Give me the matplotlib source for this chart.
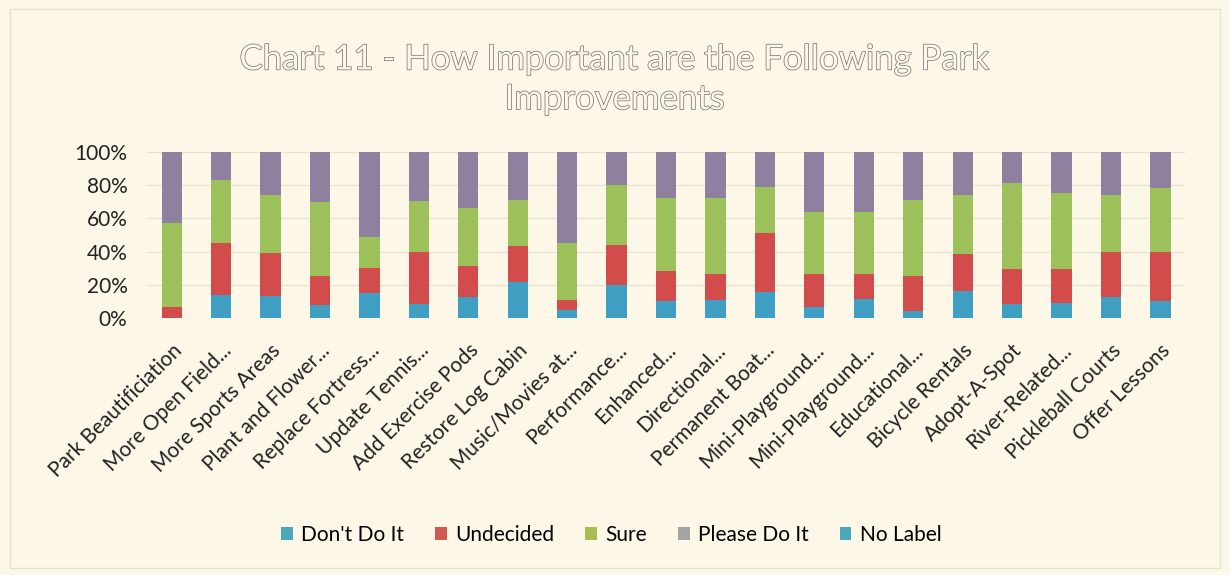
import matplotlib
matplotlib.use("Agg")
import matplotlib.pyplot as plt
import matplotlib.patheffects as pe
from matplotlib.patches import Patch
import numpy as np

categories = ["Park Beautificiation", "More Open Field...", "More Sports Areas",
              "Plant and Flower...", "Replace Fortress...", "Update Tennis...",
              "Add Exercise Pods", "Restore Log Cabin", "Music/Movies at...",
              "Performance...", "Enhanced...", "Directional...", "Permanent Boat...",
              "Mini-Playground...", "Mini-Playground...", "Educational...",
              "Bicycle Rentals", "Adopt-A-Spot", "River-Related...",
              "Pickleball Courts", "Offer Lessons"]

dont_do_it = [0, 13.7, 13, 8, 15, 8.6, 12.7, 21.7, 5, 19.7, 10, 10.6, 15.8, 6.4,
              11.6, 4.4, 16.5, 8.6, 9, 12.7, 10]
undecided = [6.6, 31.3, 26, 17.5, 15, 31.1, 18.3, 21.9, 5.8, 24.1, 18, 15.9, 35.2,
             20.1, 15, 20.6, 22.1, 21.1, 20.5, 27.1, 30]
sure = [50.4, 38, 35, 44.5, 18.6, 30.9, 35, 27.4, 34.2, 36.2, 44, 45.5, 28, 37.5,
        37, 45.8, 35.4, 51.8, 46, 34.2, 38]
please_do_it = [43, 17, 26, 30, 51.4, 29.4, 34, 29, 55, 20, 28, 28, 21, 36, 36.4,
                29.2, 26, 18.5, 24.5, 26, 22]
no_label = [0] * 21

series_names = ["Don't Do It", "Undecided", "Sure", "Please Do It", "No Label"]
bar_colors = ["#3f9fc2", "#d24c4c", "#9cc05a", "#8e809e", "#4aa8b8"]
legend_colors = ["#4aa8bc", "#cf5a55", "#a8bd4e", "#a3a3a3", "#4aa8bc"]

bg = "#fdf7e8"
plt.rcParams['font.family'] = ['Lato', 'DejaVu Sans']

fig = plt.figure(figsize=(12.3, 5.75), dpi=100, facecolor=bg)
ax = fig.add_axes([0.1195, 0.447, 0.844, 0.289], facecolor=bg)

x = np.arange(len(categories))
bottom = np.zeros(len(categories))
data = [dont_do_it, undecided, sure, please_do_it, no_label]
for vals, col, name in zip(data, bar_colors, series_names):
    v = np.array(vals, dtype=float)
    ax.bar(x, v, 0.41, bottom=bottom, color=col, label=name, zorder=3)
    bottom += v

ax.set_xlim(-0.5, len(categories) - 0.5)
ax.set_ylim(0, 100)
ax.set_yticks([0, 20, 40, 60, 80, 100])
ax.set_yticklabels([f"{v}%" for v in [0, 20, 40, 60, 80, 100]], fontsize=15, color="#222222")
ax.yaxis.grid(True, color="#e6e0d2", linewidth=0.8, zorder=0)
ax.set_axisbelow(True)
for s in ax.spines.values():
    s.set_visible(False)
ax.tick_params(axis='both', length=0)
ax.tick_params(axis='y', pad=14)
ax.set_xticks(x)
ax.set_xticklabels(categories, rotation=45, ha='right', rotation_mode='anchor',
                   fontsize=15, color="#222222")
ax.tick_params(axis='x', pad=16)

t = fig.text(0.5, 0.862, "Chart 11 - How Important are the Following Park\nImprovements",
             ha='center', va='center', fontsize=25, color=bg, linespacing=1.3)
t.set_path_effects([pe.Stroke(linewidth=1.0, foreground="#6e6e6e"), pe.Normal()])

handles = [Patch(facecolor=c, label=n) for c, n in zip(legend_colors, series_names)]
fig.legend(handles=handles, loc='center', bbox_to_anchor=(0.497, 0.07), ncol=5,
           frameon=False, fontsize=15, handlelength=0.55, handleheight=0.55,
           handletextpad=0.4, columnspacing=1.5)

border = plt.Rectangle((0.008, 0.012), 0.984, 0.972, transform=fig.transFigure,
                       fill=False, edgecolor="#e8e2d4", linewidth=1)
fig.patches.append(border)

fig.savefig("out.png", dpi=100, facecolor=bg)
